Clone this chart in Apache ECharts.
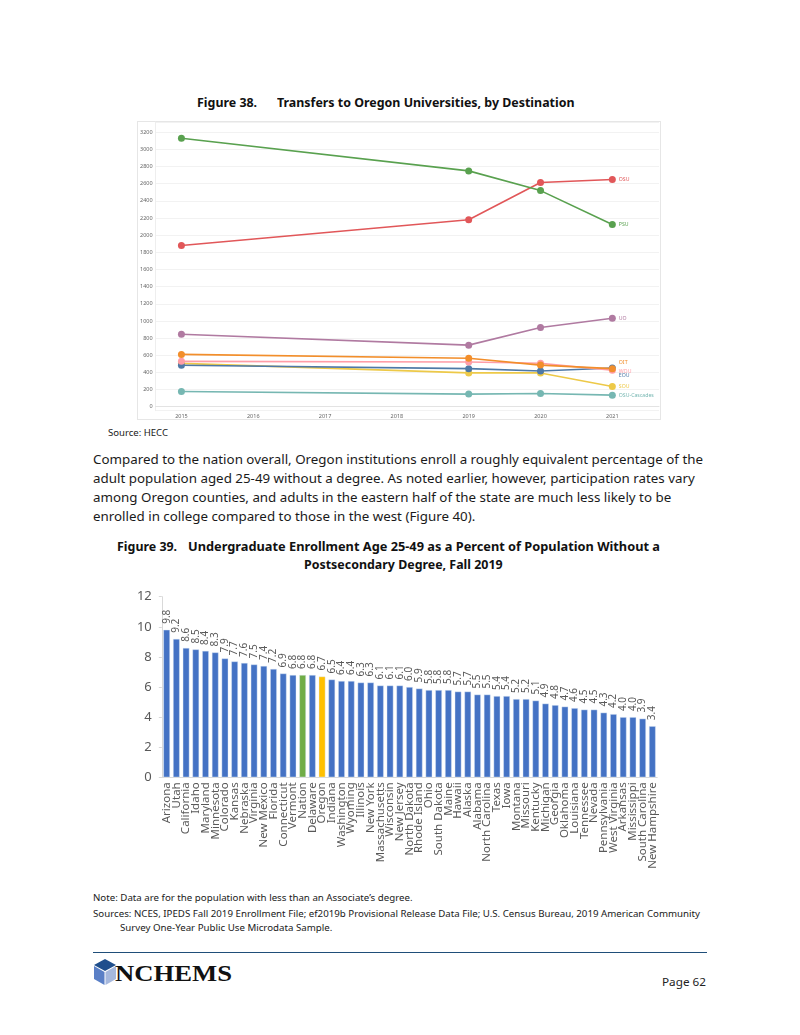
<!DOCTYPE html>
<html>
<head>
<meta charset="utf-8">
<script src="https://cdn.jsdelivr.net/npm/echarts@6/dist/echarts.min.js"></script>
<style>
  html, body { margin:0; padding:0; background:#fff; }
  body { width:800px; height:1035px; position:relative; overflow:hidden; font-family:"Noto Sans", "Open Sans", sans-serif; color:#1a1a1a; }
  .t { position:absolute; white-space:nowrap; transform-origin:left center; line-height:1; }
  .b { font-weight:bold; font-size:12.5px; color:#111; }
  .p { font-size:13px; color:#1a1a1a; }
  .n { font-size:9px; color:#1a1a1a; }
  #frame1 { position:absolute; left:137px; top:121px; width:524px; height:299px; border:1px solid #e6e6e6; box-sizing:border-box; }
  #c1 { position:absolute; left:137px; top:121px; width:524px; height:299px; }
  #c2 { position:absolute; left:120px; top:585px; width:560px; height:295px; }
  #rule { position:absolute; left:93px; top:952px; width:614px; height:0; border-top:1.5px solid #1f4e79; }
</style>
</head>
<body>
<div class="t b" id="t38a" style="left:197px; top:97px;">Figure 38.</div>
<div class="t b" id="t38b" style="left:276.5px; top:97px;">Transfers to Oregon Universities, by Destination</div>
<div id="frame1"></div>
<div id="c1"></div>
<div class="t n" id="src1" style="left:108px; top:427.5px; font-size:9.5px;">Source: HECC</div>

<div class="t p" id="p1" style="left:93px; top:452.5px;">Compared to the nation overall, Oregon institutions enroll a roughly equivalent percentage of the</div>
<div class="t p" id="p2" style="left:93px; top:471.5px;">adult population aged 25-49 without a degree. As noted earlier, however, participation rates vary</div>
<div class="t p" id="p3" style="left:93px; top:490.5px;">among Oregon counties, and adults in the eastern half of the state are much less likely to be</div>
<div class="t p" id="p4" style="left:93px; top:509.5px;">enrolled in college compared to those in the west (Figure 40).</div>

<div class="t b" id="t39a" style="left:117px; top:541px;">Figure 39.</div>
<div class="t b" id="t39b" style="left:188px; top:541px;">Undergraduate Enrollment Age 25-49 as a Percent of Population Without a</div>
<div class="t b" id="t39c" style="left:310px; top:559px;">Postsecondary Degree, Fall 2019</div>

<div id="c2"></div>

<div class="t n" id="n1" style="left:93px; top:892.5px;">Note: Data are for the population with less than an Associate’s degree.</div>
<div class="t n" id="n2" style="left:93px; top:908.5px;">Sources: NCES, IPEDS Fall 2019 Enrollment File; ef2019b Provisional Release Data File; U.S. Census Bureau, 2019 American Community</div>
<div class="t n" id="n3" style="left:120px; top:922.5px;">Survey One-Year Public Use Microdata Sample.</div>

<div id="rule"></div>
<svg style="position:absolute; left:94px; top:959px;" width="22" height="26" viewBox="0 0 22 26">
  <polygon points="11,0 22,6 11,12 0,6" fill="#1f4e8c"/>
  <polygon points="0,7 10.5,13 10.5,26 0,20" fill="#5a7fc6"/>
  <polygon points="11.5,13 22,7 22,20 11.5,26" fill="#a6b8dd"/>
</svg>
<div class="t" id="logo" style="left:115px; top:962px; font-family:'Liberation Serif','DejaVu Serif',serif; font-weight:bold; font-size:23px; color:#111;">NCHEMS</div>
<div class="t" id="page" style="left:662px; top:976px; font-size:11.5px; color:#222;">Page 62</div>

<script>
// ---------- Figure 38 data ----------
const years = [2015, 2019, 2020, 2021];
const psu = [3130, 2750, 2520, 2125];
const osu = [1880, 2180, 2615, 2650];
const uo = [845, 718, 923, 1031];
const oit = [610, 565, 485, 444];
const wou = [529, 521, 506, 425];
const eou = [483, 444, 417, 452];
const sou = [505, 394, 394, 235];
const cascades = [178, 147, 154, 135];

// ---------- Figure 39 data ----------
const states = ["Arizona","Utah","California","Idaho","Maryland","Minnesota","Colorado","Kansas","Nebraska","Virginia","New Mexico","Florida","Connecticut","Vermont","Nation","Delaware","Oregon","Indiana","Washington","Wyoming","Illinois","New York","Massachusetts","Wisconsin","New Jersey","North Dakota","Rhode Island","Ohio","South Dakota","Maine","Hawaii","Alaska","Alabama","North Carolina","Texas","Iowa","Montana","Missouri","Kentucky","Michigan","Georgia","Oklahoma","Louisiana","Tennessee","Nevada","Pennsylvania","West Virginia","Arkansas","Mississippi","South Carolina","New Hampshire"];
const pct = [9.8,9.2,8.6,8.5,8.4,8.3,7.9,7.7,7.6,7.5,7.4,7.2,6.9,6.8,6.8,6.8,6.7,6.5,6.4,6.4,6.3,6.3,6.1,6.1,6.1,6.0,5.9,5.8,5.8,5.8,5.7,5.7,5.5,5.5,5.4,5.4,5.2,5.2,5.1,4.9,4.8,4.7,4.6,4.5,4.5,4.3,4.2,4.0,4.0,3.9,3.4];
const yTicks39 = [0, 2, 4, 6, 8, 10, 12];

// ---------- Chart 1 ----------
const lineDefs = [
  {name:"OSU-Cascades", vals:cascades, color:"#76B7B2", dy:0},
  {name:"SOU", vals:sou, color:"#EDC948", dy:0},
  {name:"EOU", vals:eou, color:"#4E79A7", dy:8},
  {name:"WOU", vals:wou, color:"#FF9DA7", dy:1},
  {name:"OIT", vals:oit, color:"#F28E2B", dy:-6},
  {name:"UO", vals:uo, color:"#B07AA1", dy:0},
  {name:"OSU", vals:osu, color:"#E15759", dy:0},
  {name:"PSU", vals:psu, color:"#59A14F", dy:0}
];
const c1 = echarts.init(document.getElementById('c1'), null, {renderer:'canvas'});
c1.setOption({
  animation:false,
  textStyle:{fontFamily:'"Noto Sans", sans-serif'},
  grid:{left:16, right:2, top:1, bottom:9.3},
  xAxis:{type:'value', min:2014.64, max:2021.65, splitNumber:7,
    axisLine:{show:true, lineStyle:{color:'#e3e3e3'}}, axisTick:{show:false},
    splitLine:{show:false},
    axisLabel:{fontSize:5.5, color:'#666', margin:2.5, showMinLabel:false, showMaxLabel:false,
      formatter:v => (Math.abs(v-Math.round(v))<1e-6 ? String(Math.round(v)) : '')}},
  yAxis:{type:'value', min:-46.6, max:3320, splitNumber:16,
    axisLine:{show:true, lineStyle:{color:'#eeeeee'}}, axisTick:{show:false},
    splitLine:{show:true, lineStyle:{color:'#f2f2f2', width:1}},
    axisLabel:{fontSize:5.5, color:'#666', margin:3,
      formatter:v => (Math.abs(v % 200)<1e-6 && v>=0 ? String(Math.round(v)) : '')}},
  series: lineDefs.map(d => ({
    type:'line', name:d.name, symbol:'circle', symbolSize:7,
    lineStyle:{color:d.color, width:1.6}, itemStyle:{color:d.color},
    z:2,
    data: years.map((y,i) => i === years.length-1
      ? {value:[y, d.vals[i]], label:{show:true, position:'right', distance:3, offset:[0,d.dy],
          formatter:d.name, fontSize:5.2, color:d.color}}
      : [y, d.vals[i]])
  }))
});

// ---------- Chart 2 ----------
const highlight = {"Nation":"#70AD47", "Oregon":"#FFC000"};
const c2 = echarts.init(document.getElementById('c2'), null, {renderer:'canvas'});
c2.setOption({
  animation:false,
  textStyle:{fontFamily:'"Noto Sans", sans-serif'},
  grid:{left:41.8, right:22.8, top:11.7, bottom:102.7},
  xAxis:{type:'category', data:states,
    axisLine:{show:true, lineStyle:{color:'#d9d9d9'}}, axisTick:{show:false},
    axisLabel:{interval:0, rotate:90, fontSize:11.5, color:'#595959', margin:5}},
  yAxis:{type:'value', min:yTicks39[0], max:yTicks39[yTicks39.length-1], interval:2,
    axisLine:{show:true, lineStyle:{color:'#d9d9d9'}},
    axisTick:{show:true, length:3, lineStyle:{color:'#d9d9d9'}},
    splitLine:{show:false},
    axisLabel:{fontSize:13, color:'#595959', margin:10}},
  series:[{
    type:'bar', barWidth:'69%',
    data: pct.map((v,i) => ({value:v, itemStyle:{color: highlight[states[i]] || '#4472C4'}})),
    itemStyle:{borderColor:'rgba(220,230,245,0.7)', borderWidth:0.6},
    label:{show:true, position:'top', rotate:90, align:'left', verticalAlign:'middle', distance:6,
      fontSize:10, color:'#595959', formatter:p => p.value.toFixed(1)}
  }]
});

// ---------- text fitting ----------
function w(el){ return el.getBoundingClientRect().width; }
function scaleGroup(refId, target, ids){
  const s = target / w(document.getElementById(refId));
  ids.forEach(id => { document.getElementById(id).style.transform = 'scaleX(' + s + ')'; });
  return s;
}
scaleGroup('p1', 610, ['p1','p2','p3','p4']);
scaleGroup('t38b', 297.5, ['t38a','t38b','t39a','t39c']);
scaleGroup('t39b', 472, ['t39b']);
const t39c = document.getElementById('t39c');
t39c.style.left = (403 - w(t39c)/2) + 'px';
scaleGroup('n2', 607, ['n1','n2','n3']);
scaleGroup('src1', 60, ['src1']);
scaleGroup('logo', 117, ['logo']);
scaleGroup('page', 44, ['page']);
</script>
</body>
</html>
